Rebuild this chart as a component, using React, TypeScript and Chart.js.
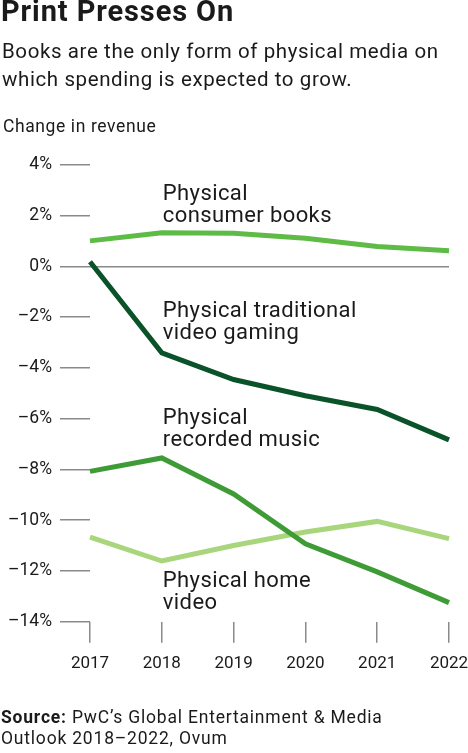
import { useEffect, useRef } from "react";
import { Chart, registerables } from "chart.js";

Chart.register(...registerables);

const years = ["2017", "2018", "2019", "2020", "2021", "2022"];
const consumerBooks = [1.0, 1.32, 1.3, 1.1, 0.78, 0.61];
const videoGaming = [0.18, -3.41, -4.46, -5.1, -5.64, -6.84];
const recordedMusic = [-8.08, -7.55, -8.97, -10.93, -12.04, -13.25];
const homeVideo = [-10.67, -11.61, -11.0, -10.47, -10.05, -10.73];

const seriesNames = [
  ["Physical", "consumer books"],
  ["Physical traditional", "video gaming"],
  ["Physical", "recorded music"],
  ["Physical home", "video"],
];
// where each direct label sits (value of its first baseline, at the 2018 column)
const labelValues = [2.6, -1.98, -6.22, -12.63];

const colors = ["#5dbb46", "#0a5229", "#3e9b35", "#a9d67c"];
const FONT = "Roboto, 'DejaVu Sans', sans-serif";

const seriesLabels = {
  id: "seriesLabels",
  afterDatasetsDraw(chart) {
    const { ctx, scales } = chart;
    const x = scales.x.getPixelForValue(1) + 1;
    ctx.save();
    ctx.fillStyle = "#1a1a1a";
    ctx.font = `22px ${FONT}`;
    ctx.letterSpacing = "0.4px";
    ctx.textAlign = "left";
    ctx.textBaseline = "alphabetic";
    seriesNames.forEach((lines, i) => {
      const y = scales.y.getPixelForValue(labelValues[i]);
      lines.forEach((t, j) => ctx.fillText(t, x, y + j * 22));
    });
    ctx.restore();
  },
};

export default function App() {
  const canvasRef = useRef(null);

  useEffect(() => {
    const chart = new Chart(canvasRef.current, {
      type: "line",
      data: {
        labels: years,
        datasets: [consumerBooks, videoGaming, recordedMusic, homeVideo].map(
          (d, i) => ({
            data: d,
            borderColor: colors[i],
            borderWidth: 5,
            pointRadius: 0,
            tension: 0,
            clip: false,
          })
        ),
      },
      options: {
        animation: false,
        responsive: false,
        devicePixelRatio: 1,
        layout: { padding: { top: 164.7, right: 19, bottom: 81.3, left: 0 } },
        plugins: { legend: { display: false }, tooltip: { enabled: false } },
        scales: {
          x: {
            offset: false,
            border: { display: false },
            grid: {
              drawOnChartArea: false,
              tickLength: 21,
              tickColor: "#8a8a8a",
              lineWidth: 1.5,
            },
            ticks: {
              color: "#1a1a1a",
              font: { family: FONT, size: 17 },
              padding: 11,
              maxRotation: 0,
            },
            afterFit: (s) => {
              s.height = 50;
              s.paddingLeft = 0;
              s.paddingRight = 0;
            },
          },
          y: {
            min: -14,
            max: 4,
            border: { display: false },
            grid: {
              drawOnChartArea: true,
              color: (c) => (c.tick && c.tick.value === 0 ? "#8a8a8a" : "transparent"),
              tickColor: "#8a8a8a",
              tickLength: 30,
              lineWidth: 1.5,
            },
            ticks: {
              stepSize: 2,
              color: "#1a1a1a",
              font: { family: FONT, size: 17.5 },
              padding: 8,
              callback: (v) => (v < 0 ? "\u2013" + Math.abs(v) : v) + "%",
            },
            afterFit: (s) => {
              s.width = 90;
              s.paddingTop = 0;
              s.paddingBottom = 0;
            },
          },
        },
      },
      plugins: [seriesLabels],
    });
    return () => chart.destroy();
  }, []);

  return (
    <div
      style={{
        position: "absolute",
        left: 0,
        top: 0,
        width: 468,
        height: 753,
        background: "#fff",
        fontFamily: FONT,
        color: "#1a1a1a",
      }}
    >
      <canvas
        ref={canvasRef}
        width={468}
        height={753}
        style={{ position: "absolute", left: 0, top: 0 }}
      />
      <div style={{ position: "absolute", left: 1, top: -6, fontSize: 29, fontWeight: 700, letterSpacing: 0.9 }}>
        Print Presses On
      </div>
      <div style={{ position: "absolute", left: 2, top: 37, fontSize: 20.5, lineHeight: "28px", letterSpacing: 0.6 }}>
        Books are the only form of physical media on
        <br />
        which spending is expected to grow.
      </div>
      <div style={{ position: "absolute", left: 3, top: 116, fontSize: 17.5, letterSpacing: 0.6 }}>
        Change in revenue
      </div>
      <div style={{ position: "absolute", left: 1, top: 707, fontSize: 17.5, lineHeight: "21px", letterSpacing: 0.8 }}>
        <b>Source:</b> PwC’s Global Entertainment &amp; Media
        <br />
        Outlook 2018–2022, Ovum
      </div>
    </div>
  );
}
